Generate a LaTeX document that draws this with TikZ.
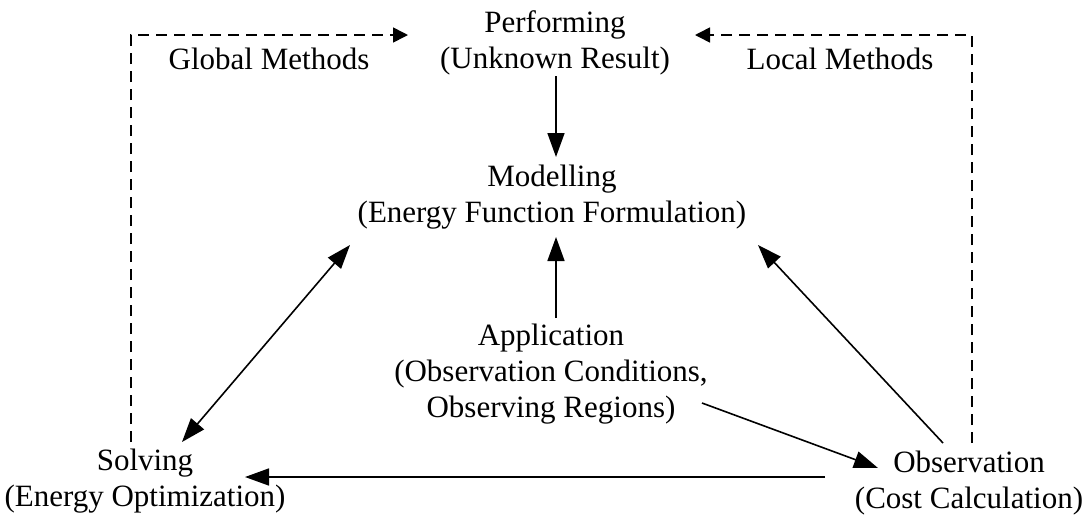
\documentclass[tikz,border=0pt]{standalone}
\usepackage{fontspec}
\setmainfont{Liberation Serif}
\usetikzlibrary{arrows.meta,calc}
\begin{document}
\begin{tikzpicture}[x=1pt,y=-1pt,
  lbl/.style={align=center,inner sep=0pt,font=\fontsize{31}{36}\selectfont},
  arr/.style={line width=1.6pt,-{Triangle[length=24pt,width=17pt]}},
  darr/.style={line width=1.6pt,{Triangle[length=24pt,width=17pt]}-{Triangle[length=24pt,width=17pt]}},
  dsh/.style={line width=1.6pt,dash pattern=on 11pt off 7pt,-{Triangle[length=15pt,width=15pt]}}]
\useasboundingbox (0,0) rectangle (1087,515);
\node[lbl] (perf) at (555,43) {Performing\\(Unknown Result)};
\node[lbl] (model) at (552,197) {Modelling\\(Energy Function Formulation)};
\node[lbl] (app) at (551,374) {Application\\(Observation Conditions,\\Observing Regions)};
\node[lbl] (solve) at (145,481) {Solving\\(Energy Optimization)};
\node[lbl] (obs) at (969,483) {Observation\\(Cost Calculation)};
\node[lbl] (glob) at (269,59) {Global Methods};
\node[lbl] (loc) at (840,59) {Local Methods};
\draw[arr] ($(perf)+(1,33)$) -- ($(model)+(4,-40)$);
\draw[arr] ($(app)+(5,-56)$) -- ($(model)+(4,40)$);
\draw[darr] ($(solve)+(37,-39)$) -- ($(model)+(-202,48)$);
\draw[arr] ($(obs)+(-26,-40)$) -- ($(model)+(206,48)$);
\draw[arr] ($(app)+(151,29)$) -- ($(obs)+(-91,-15)$);
\draw[arr] ($(obs)+(-144,-6)$) -- ($(solve)+(100,-4)$);
\draw[dsh] ($(solve)+(-14,-39)$) |- ($(perf)+(-147,-8)$);
\draw[dsh] ($(obs)+(3,-40)$) |- ($(perf)+(140,-8)$);
\end{tikzpicture}
\end{document}
